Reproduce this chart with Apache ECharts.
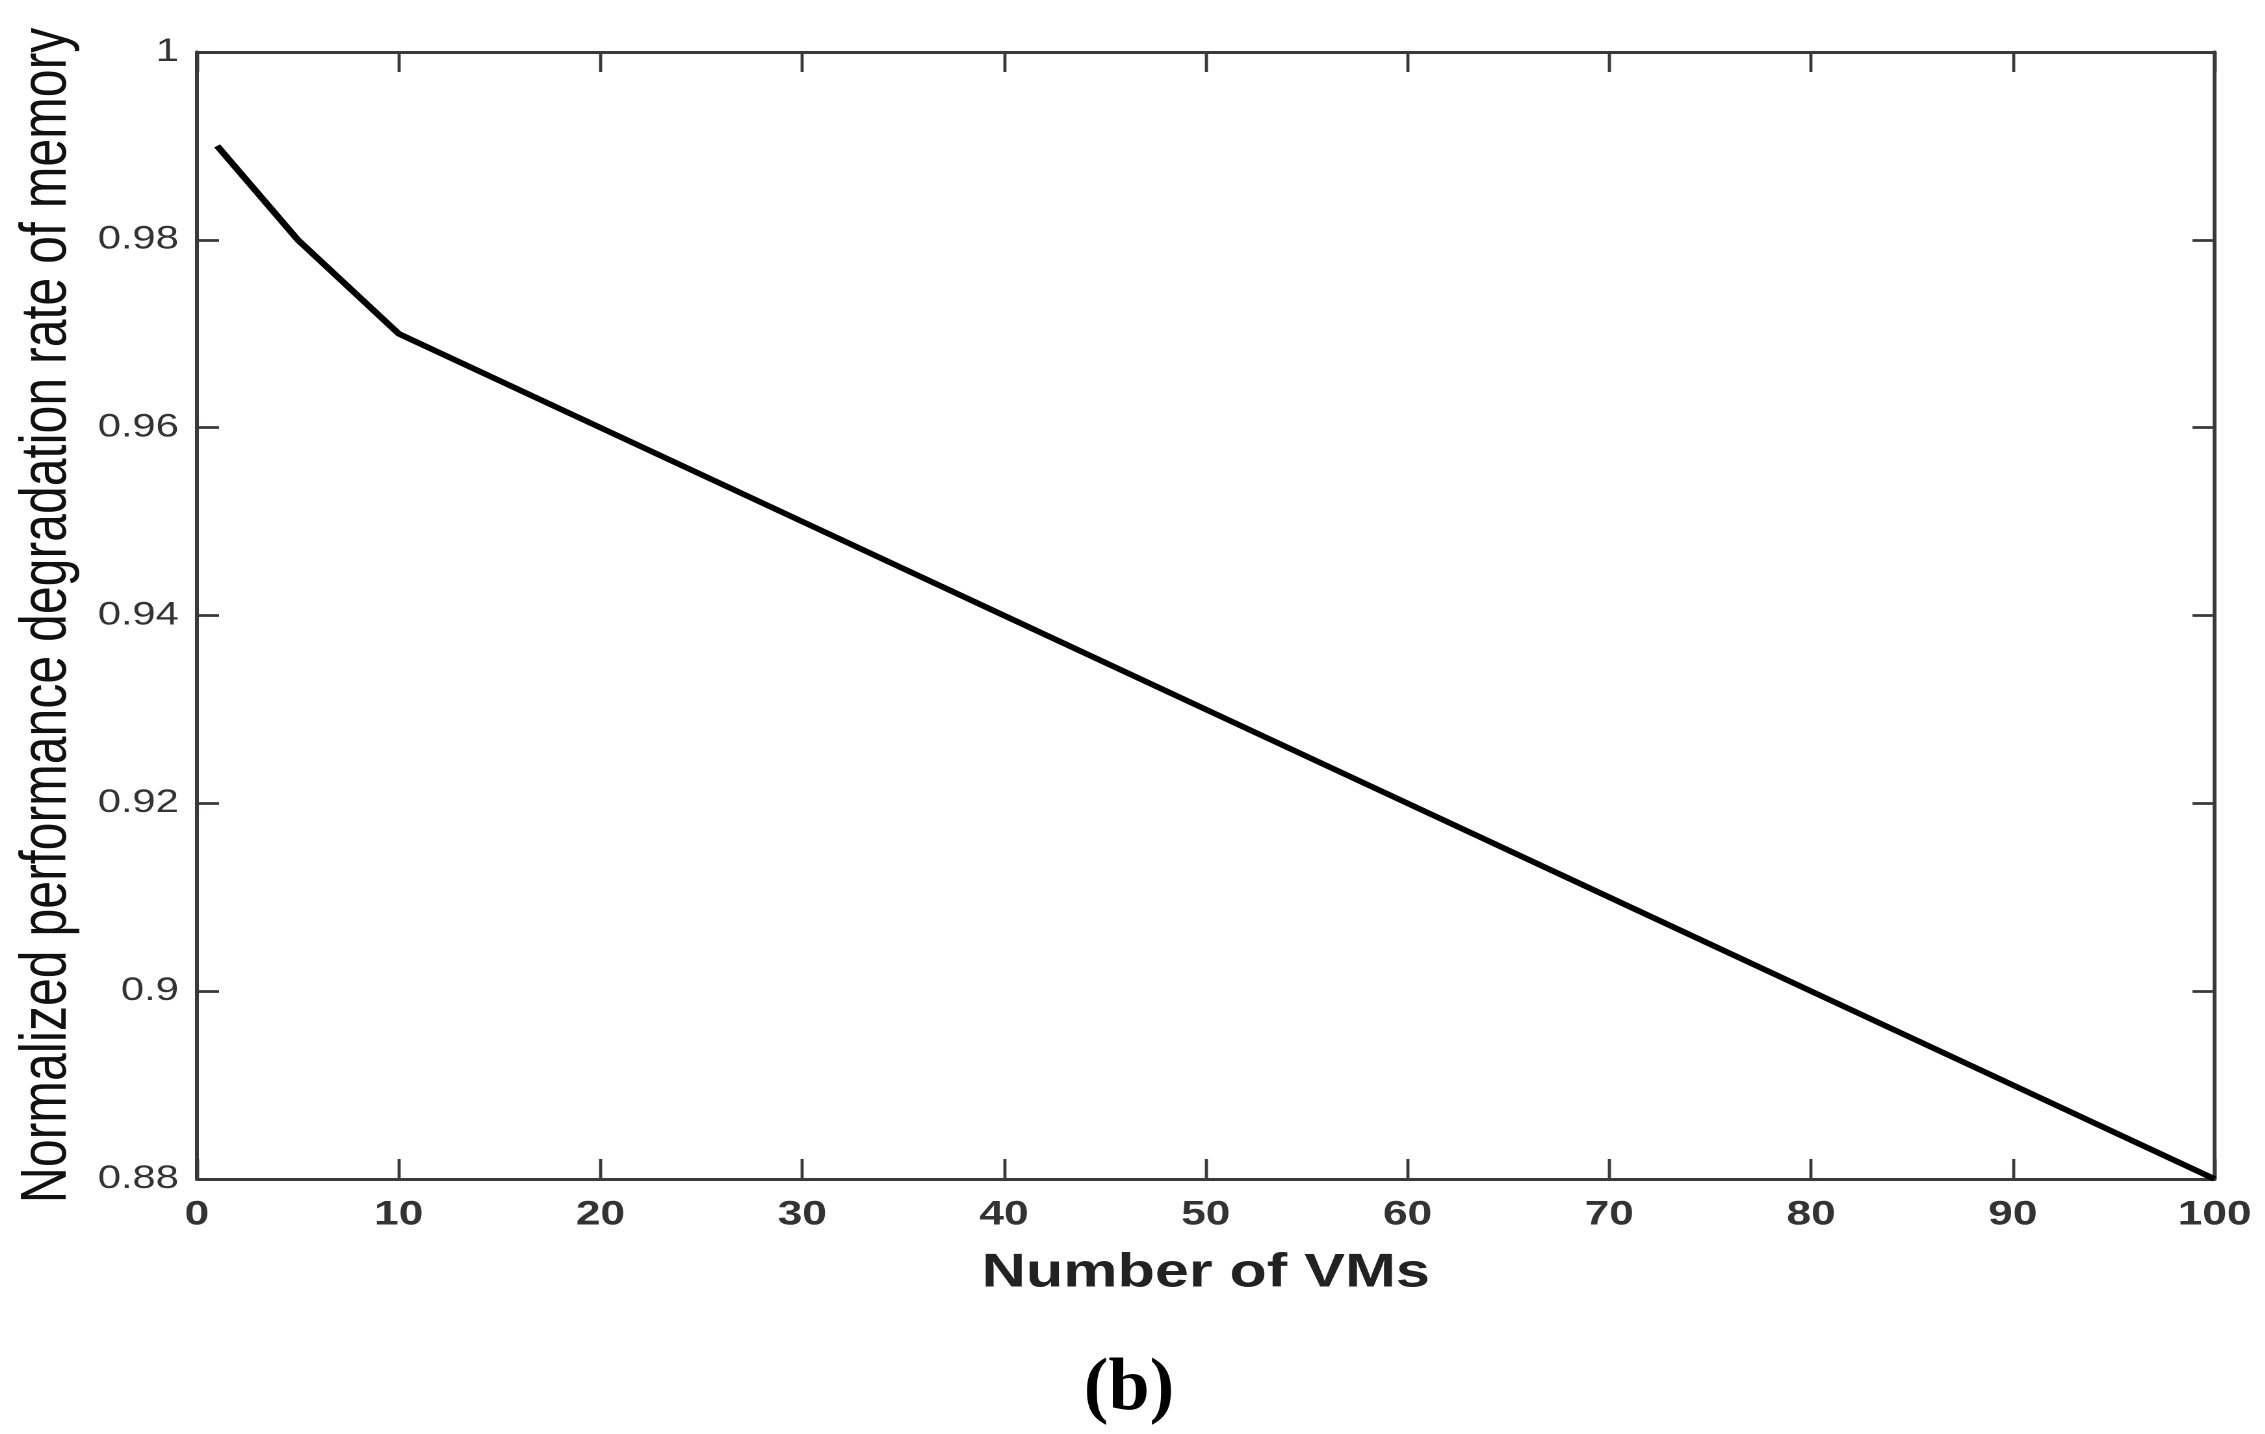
<!DOCTYPE html>
<html>
<head>
<meta charset="utf-8">
<script src="https://cdn.jsdelivr.net/npm/echarts@6/dist/echarts.min.js"></script>
<style>
html,body{margin:0;padding:0;background:#fff;overflow:hidden;}
#wrap{width:2265px;height:1434px;overflow:hidden;position:relative;}
#c{position:absolute;left:0;top:0;height:1434px;transform-origin:0 0;}
</style>
</head>
<body>
<div id="wrap"><div id="c"></div></div>
<script>
const vmCounts = [1, 5, 10, 20, 30, 40, 50, 60, 70, 80, 90, 100];
const degradation = [0.99, 0.98, 0.97, 0.96, 0.95, 0.94, 0.93, 0.92, 0.91, 0.90, 0.89, 0.88];
const xTitle = 'Number of VMs';
const yTitle = 'Normalized performance degradation rate of memory';
const caption = '(b)';

// the reference figure is stretched horizontally; reproduce that by scaling the chart
const K = 1.3;
const W = 2265 / K;
const el = document.getElementById('c');
el.style.width = W + 'px';
el.style.transform = 'scaleX(' + K + ')';

const chart = echarts.init(el, null, {devicePixelRatio: 2});
const lineCol = '#3b383e';
const mkLine = () => ({show: true, onZero: false, lineStyle: {color: lineCol, width: 3}});
const mkTick = (len, w) => ({show: true, inside: true, length: len, lineStyle: {color: lineCol, width: w}});
const fmtY = v => String(parseFloat(v.toFixed(2)));

chart.setOption({
  animation: false,
  backgroundColor: '#fff',
  grid: {left: 151.5, right: W - 2215 / K, top: 52, bottom: 255, containLabel: false},
  graphic: [{
    type: 'text', x: 1129 / K, y: 1390, scaleX: 1 / K,
    style: {text: caption, font: 'bold 74px "Liberation Serif"', fill: '#000',
            textAlign: 'center', textVerticalAlign: 'middle'}
  }],
  xAxis: [{
    type: 'value', position: 'bottom', min: 0, max: 100, interval: 10,
    name: xTitle, nameLocation: 'middle', nameGap: 71,
    nameTextStyle: {fontFamily: 'Liberation Sans', fontWeight: 'bold', fontSize: 47, color: '#222'},
    axisLine: mkLine(), axisTick: mkTick(20, 2.4), splitLine: {show: false},
    axisLabel: {margin: 19, fontFamily: 'Liberation Sans', fontWeight: 'bold', fontSize: 34, color: '#333'}
  }, {
    type: 'value', position: 'top', min: 0, max: 100, interval: 10,
    axisLine: mkLine(), axisTick: mkTick(20, 2.4), splitLine: {show: false}, axisLabel: {show: false}
  }],
  yAxis: [{
    type: 'value', position: 'left', min: 0.88, max: 1, interval: 0.02,
    name: yTitle, nameLocation: 'middle', nameGap: 90, nameRotate: 90,
    nameTextStyle: {fontFamily: 'Liberation Sans', fontSize: 50, color: '#111'},
    axisLine: mkLine(), axisTick: mkTick(17, 2.8), splitLine: {show: false},
    axisLabel: {margin: 14, fontFamily: 'Liberation Sans', fontSize: 32, color: '#333', formatter: fmtY}
  }, {
    type: 'value', position: 'right', min: 0.88, max: 1, interval: 0.02,
    axisLine: mkLine(), axisTick: mkTick(17, 2.8), splitLine: {show: false}, axisLabel: {show: false}
  }],
  series: [{
    type: 'line',
    data: vmCounts.map((x, i) => [x, degradation[i]]),
    showSymbol: false, symbol: 'none',
    lineStyle: {color: '#000', width: 5.5},
    clip: false
  }]
});
</script>
</body>
</html>
